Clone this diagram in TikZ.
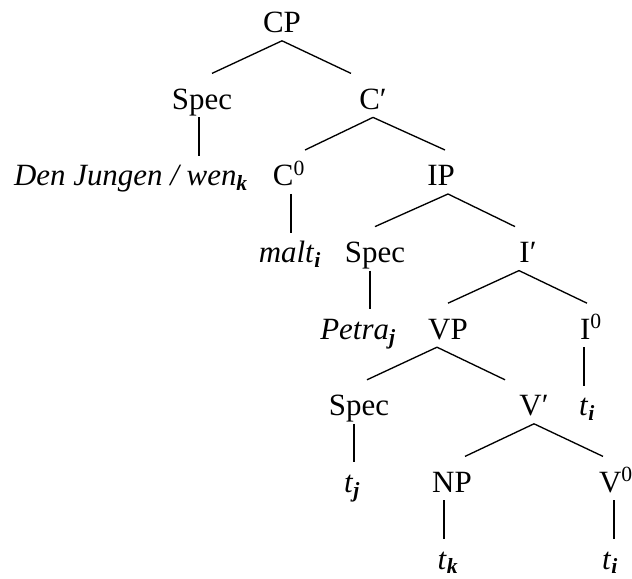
\documentclass[tikz,border=0pt]{standalone}
\usepackage{fontspec}
\setmainfont{Liberation Serif}
\usetikzlibrary{positioning}
\newcommand{\coidx}[1]{\textsubscript{\bfseries\itshape #1}}
\tikzset{
    node distance=0.815cm,
    category/.style={inner sep=0pt, outer sep=0pt, text height=0.9cm, text depth=0.2cm,
        font=\fontsize{22}{26}\selectfont},
    branch line/.style={line width=0.95pt},
    stem line/.style={line width=0.75pt, shorten >=-0.15cm}
}
\begin{document}
\begin{tikzpicture}
    \useasboundingbox (0,0) rectangle (15.8,-14.475);
    % CP level
    \node[category, anchor=base] (cp) at (7.05,-0.82) {CP};
    \node[category] (spec1) [below = of cp, xshift=-2cm] {Spec};
    \node[category] (cbar) [below = of cp, xshift=2.275cm] {C′};
    \node[category] (den) [below = of spec1, xshift=-1.775cm] {\textit{Den Jungen / wen}\coidx{k}};
    \node[category] (c0) [below = of cbar, xshift=-2.1cm] {C\textsuperscript{0}};
    \node[category] (ip) [below = of cbar, xshift=1.7cm] {IP};
    \node[category] (malt) [below = of c0, xshift=0.025cm] {\textit{malt}\coidx{i}};
    % IP level
    \node[category] (spec2) [below = of ip, xshift=-1.65cm] {Spec};
    \node[category] (ibar) [below = of ip, xshift=2.175cm] {I′};
    \node[category] (petra) [below = of spec2, xshift=-0.425cm] {\textit{Petra}\coidx{j}};
    \node[category] (vp) [below = of ibar, xshift=-2cm] {VP};
    \node[category] (i0) [below = of ibar, xshift=1.575cm] {I\textsuperscript{0}};
    \node[category] (ti1) [below = of i0, xshift=-0.1cm] {\textit{t}\coidx{i}};
    % VP level
    \node[category] (spec3) [below = of vp, xshift=-2.225cm] {Spec};
    \node[category] (vbar) [below = of vp, xshift=2.15cm] {V′};
    \node[category] (tj) [below = of spec3, xshift=-0.175cm] {\textit{t}\coidx{j}};
    \node[category] (np) [below = of vbar, xshift=-2.05cm] {NP};
    \node[category] (v0) [below = of vbar, xshift=2.05cm] {V\textsuperscript{0}};
    \node[category] (tk) [below = of np, xshift=-0.1cm] {\textit{t}\coidx{k}};
    \node[category] (ti2) [below = of v0, xshift=-0.15cm] {\textit{t}\coidx{i}};
    \path[branch line]
        (cp.south) edge ([xshift=0.25cm]spec1.north)
        (cp.south) edge ([xshift=-0.55cm]cbar.north)
        (cbar.south) edge ([xshift=0.4cm]c0.north)
        (cbar.south) edge ([xshift=0.1cm]ip.north)
        ([xshift=0.175cm]ip.south) edge (spec2.north)
        ([xshift=0.175cm]ip.south) edge ([xshift=-0.325cm]ibar.north)
        ([xshift=-0.225cm]ibar.south) edge (vp.north)
        ([xshift=-0.225cm]ibar.south) edge ([xshift=-0.1cm]i0.north)
        ([xshift=-0.275cm]vp.south) edge ([xshift=0.2cm]spec3.north)
        ([xshift=-0.275cm]vp.south) edge ([xshift=-0.725cm]vbar.north)
        (vbar.south) edge ([xshift=0.325cm]np.north)
        (vbar.south) edge ([xshift=-0.325cm]v0.north)
        ;
    \path[stem line]
        ([xshift=-0.075cm]spec1.south) edge ([xshift=-0.075cm]spec1.south |- den.north)
        ([xshift=0.05cm]c0.south) edge ([xshift=0.05cm]c0.south |- malt.north)
        ([xshift=-0.125cm]spec2.south) edge ([xshift=-0.125cm]spec2.south |- petra.north)
        ([xshift=-0.175cm]i0.south) edge ([xshift=-0.175cm]i0.south |- ti1.north)
        ([xshift=-0.125cm]spec3.south) edge ([xshift=-0.125cm]spec3.south |- tj.north)
        ([xshift=-0.2cm]np.south) edge ([xshift=-0.2cm]np.south |- tk.north)
        ([xshift=-0.05cm]v0.south) edge ([xshift=-0.05cm]v0.south |- ti2.north)
        ;
\end{tikzpicture}
\end{document}
